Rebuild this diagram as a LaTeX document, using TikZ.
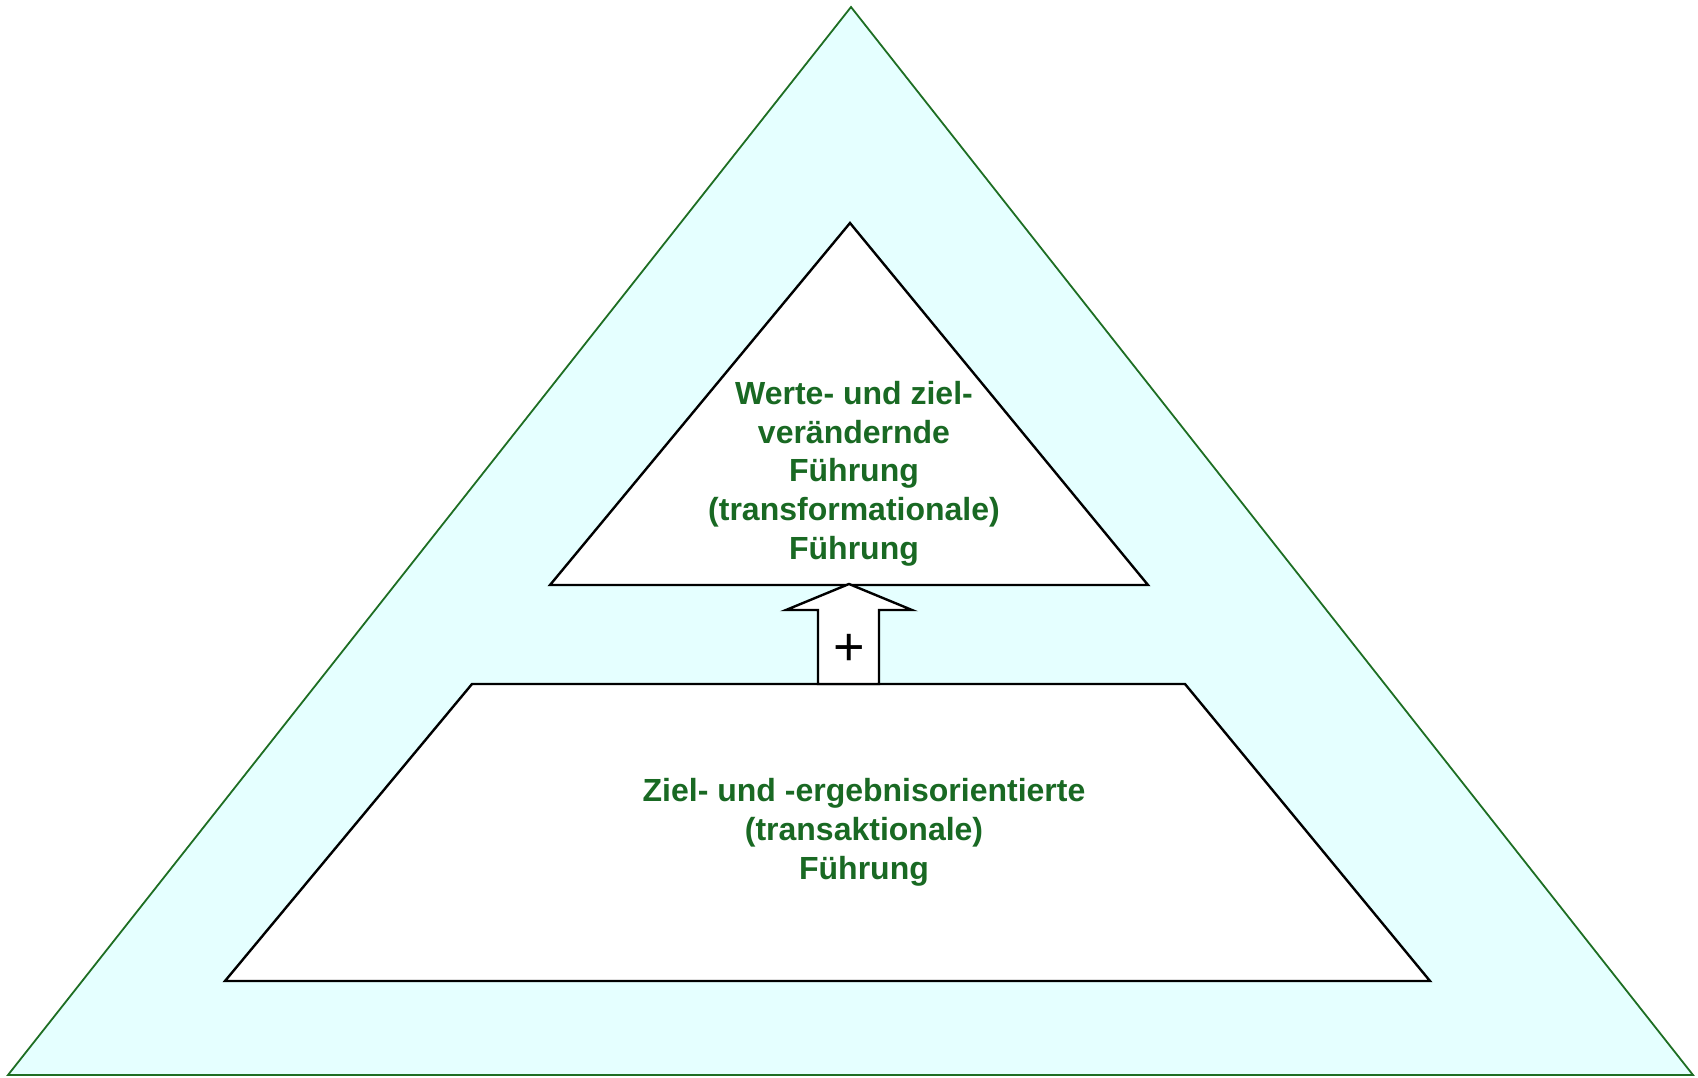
\documentclass[tikz,border=0pt]{standalone}
\usepackage{fontspec}
\setmainfont{Liberation Sans}
\definecolor{outerline}{RGB}{30,110,35}
\definecolor{outerfill}{RGB}{229,255,255}
\definecolor{txtgreen}{RGB}{25,105,35}
\tikzset{
  shapebox/.style={draw=black, line width=2.4pt, fill=white, line join=miter},
  lbl/.style={text=txtgreen, align=center, font=\fontsize{32}{38.6}\selectfont\bfseries, inner sep=0pt}
}
\begin{document}
\begin{tikzpicture}[x=1pt,y=-1pt]
\useasboundingbox (0,0) rectangle (1698,1077);
% outer triangle
\draw[draw=outerline, line width=1.8pt, fill=outerfill] (8,1075) -- (851,7) -- (1693,1075) -- cycle;
% inner triangle
\draw[shapebox] (550,585) -- (850,223) -- (1148,585) -- cycle;
% trapezoid
\draw[shapebox] (472,684) -- (1185,684) -- (1430,981) -- (225,981) -- cycle;
% arrow
\draw[shapebox] (849,584) -- (912,610) -- (879,610) -- (879,684) -- (818,684) -- (818,610) -- (786,610) -- cycle;
\node[font=\fontsize{54}{54}\selectfont, inner sep=0pt] (plus) at (849,650) {+};
% texts
\node[lbl, anchor=base] (top) at (854,559) {Werte- und ziel-\\verändernde\\Führung\\(transformationale)\\Führung};
\node[lbl, anchor=base] (bot) at (864,879) {Ziel- und -ergebnisorientierte\\(transaktionale)\\Führung};
\end{tikzpicture}
\end{document}
